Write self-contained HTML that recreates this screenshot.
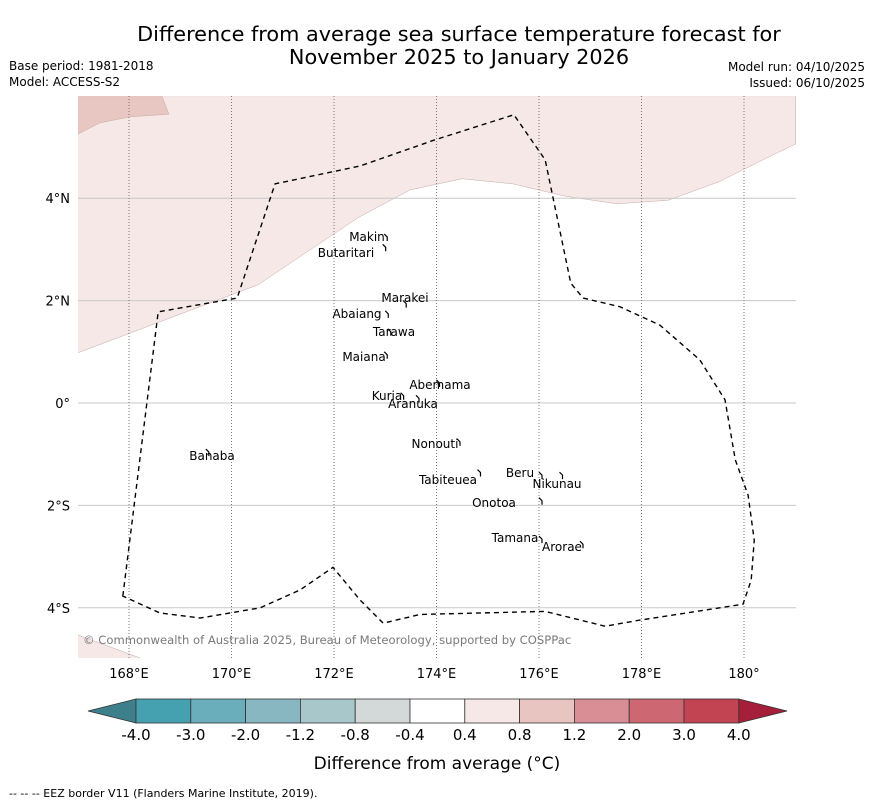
<!DOCTYPE html>
<html><head><meta charset="utf-8"><style>
body{margin:0;background:#fff;font-family:"DejaVu Sans","Liberation Sans",sans-serif;}
</style></head><body>
<svg id="c" width="873" height="804" xmlns="http://www.w3.org/2000/svg" font-family="DejaVu Sans, Liberation Sans, sans-serif">
<text x="459" y="41" font-size="20.8" text-anchor="middle">Difference from average sea surface temperature forecast for</text>
<text x="459" y="64" font-size="20.8" text-anchor="middle">November 2025 to January 2026</text>
<text x="9" y="70" font-size="12">Base period: 1981-2018</text>
<text x="9" y="86" font-size="12">Model: ACCESS-S2</text>
<text x="865" y="71" font-size="12" text-anchor="end">Model run: 04/10/2025</text>
<text x="865" y="87" font-size="12" text-anchor="end">Issued: 06/10/2025</text>
<g id="map"></g>
<g id="cb"></g>
<text x="437" y="769" font-size="17" text-anchor="middle">Difference from average (°C)</text>
<text x="9" y="797" font-size="11">--  --  -- EEZ border V11 (Flanders Marine Institute, 2019).</text>
</svg>
<script>
const lonTicks=[168,170,172,174,176,178,180];
const lonLabels=["168°E","170°E","172°E","174°E","176°E","178°E","180°"];
const latTicks=[4,2,0,-2,-4];
const latLabels=["4°N","2°N","0°","2°S","4°S"];
const eezLon=[167.88,168.57,170.11,170.85,172.51,173.97,175.51,176.12,176.62,176.86,177.58,178.36,179.14,179.63,179.83,180.08,180.20,180.14,179.98,177.97,177.29,176.12,173.68,172.96,172.51,171.98,171.34,170.56,169.39,168.60];
const eezLat=[-3.77,1.78,2.05,4.28,4.63,5.14,5.63,4.75,2.34,2.05,1.88,1.52,0.84,0.06,-1.11,-1.80,-2.68,-3.46,-3.93,-4.24,-4.36,-4.07,-4.13,-4.30,-3.85,-3.21,-3.65,-4.00,-4.20,-4.10];
const paleLon=[167,170.52,172.47,173.48,174.50,175.49,176.51,177.52,178.52,179.51,180.51,181.01,181.01,167];
const paleLat=[0.98,2.31,3.62,4.16,4.38,4.28,4.04,3.89,3.96,4.32,4.82,5.06,6,6];
const darkLon=[167,167.43,168.02,168.78,168.64,167];
const darkLat=[5.25,5.47,5.59,5.64,6,6];
const cornerLon=[167,168.27,167];
const cornerLat=[-4.53,-5,-5];
const islandNames=["Makin","Butaritari","Marakei","Abaiang","Tarawa","Maiana","Abemama","Kuria","Aranuka","Nonouti","Banaba","Beru","Nikunau","Tabiteuea","Onotoa","Tamana","Arorae"];
const islandLon=[172.98,172.95,173.35,173.0,173.05,172.98,174.0,173.3,173.6,174.4,169.5,176.0,176.4,174.8,176.0,176.0,176.8];
const islandLat=[3.3,3.1,2.0,1.8,1.45,1.0,0.45,0.2,0.15,-0.7,-0.9,-1.35,-1.35,-1.3,-1.85,-2.6,-2.7];
const labelX=[367,346,405,357,394,364,440,387,413,435,212,520,557,448,494,515,562];
const labelY=[241,257,302,318,336,361,389,400,408,448,460,477,488,484,507,542,551];
const cbBounds=["-4.0","-3.0","-2.0","-1.2","-0.8","-0.4","0.4","0.8","1.2","2.0","3.0","4.0"];
const cbColors=["#45a0b0","#6aaebb","#88b7c2","#a8c7cb","#d3d8d8","#ffffff","#f5e8e6","#e8c5c1","#d98d95","#cd6873","#c24452"];
const NS="http://www.w3.org/2000/svg";
const X0=78,X1=796,Y0=96,Y1=658;
const x=l=>129+(l-168)*51.25;
const y=a=>403-a*51.2;
function mk(t,at,p){const e=document.createElementNS(NS,t);for(const k in at)e.setAttribute(k,at[k]);p.appendChild(e);return e;}
const map=document.getElementById('map');
const clip=mk('clipPath',{id:'cl'},map);mk('rect',{x:X0,y:Y0,width:X1-X0,height:Y1-Y0},clip);
const g=mk('g',{'clip-path':'url(#cl)'},map);
function poly(lo,la,fill,name){const p=mk('polygon',{points:lo.map((v,i)=>x(v)+','+y(la[i])).join(' '),fill:fill,stroke:'#c9a8a5','stroke-width':0.5},g);

}
poly(paleLon,paleLat,'#f5e8e7','anomaly-region-0.4-0.8');
poly(darkLon,darkLat,'#e8c6c2','anomaly-region-0.8-1.2');
poly(cornerLon,cornerLat,'#f5e8e7','anomaly-region-corner');
latTicks.forEach((v,i)=>{const l=mk('line',{x1:X0,x2:X1,y1:y(v),y2:y(v),stroke:'#c8c8c8','stroke-width':1},g);


const t=mk('text',{x:70,y:y(v)+5,'font-size':13,'text-anchor':'end'},map);t.textContent=latLabels[i];

});
lonTicks.forEach((v,i)=>{const l=mk('line',{x1:x(v),x2:x(v),y1:Y0,y2:Y1,stroke:'#777','stroke-width':1,'stroke-dasharray':'1,2'},g);


const t=mk('text',{x:x(v),y:678,'font-size':13,'text-anchor':'middle'},map);t.textContent=lonLabels[i];

});
const eez=mk('polygon',{points:eezLon.map((v,i)=>x(v)+','+y(eezLat[i])).join(' '),fill:'none',stroke:'#000','stroke-width':1.4,'stroke-dasharray':'5,4'},g);


islandNames.forEach((n,i)=>{const m=mk('path',{d:`M${x(islandLon[i])},${y(islandLat[i])} l3,3 l0,4`,stroke:'#000','stroke-width':1.2,fill:'none'},g);


const t=mk('text',{x:labelX[i],y:labelY[i],'font-size':12,'text-anchor':'middle'},g);t.textContent=n;

});
const cp=mk('text',{x:83,y:644,'font-size':11.6,fill:'#7a7a7a'},g);cp.textContent='© Commonwealth of Australia 2025, Bureau of Meteorology, supported by COSPPac';


const cb=document.getElementById('cb');
const CB0=136,CBW=54.8,CY=699,CH=24;
const lt=mk('polygon',{points:`${CB0},${CY} ${CB0},${CY+CH} 88,${CY+CH/2}`,fill:'#3d7f8b',stroke:'#333','stroke-width':0.8},cb);


cbColors.forEach((c,i)=>{const r=mk('rect',{x:CB0+i*CBW,y:CY,width:CBW,height:CH,fill:c,stroke:'#333','stroke-width':0.8},cb);

});
const xe=CB0+cbColors.length*CBW;
const rt=mk('polygon',{points:`${xe},${CY} ${xe},${CY+CH} 787,${CY+CH/2}`,fill:'#a61f3a',stroke:'#333','stroke-width':0.8},cb);


cbBounds.forEach((b,i)=>{const t=mk('text',{x:CB0+i*CBW,y:740,'font-size':15,'text-anchor':'middle'},cb);t.textContent=b;

});
</script>
</body></html>
